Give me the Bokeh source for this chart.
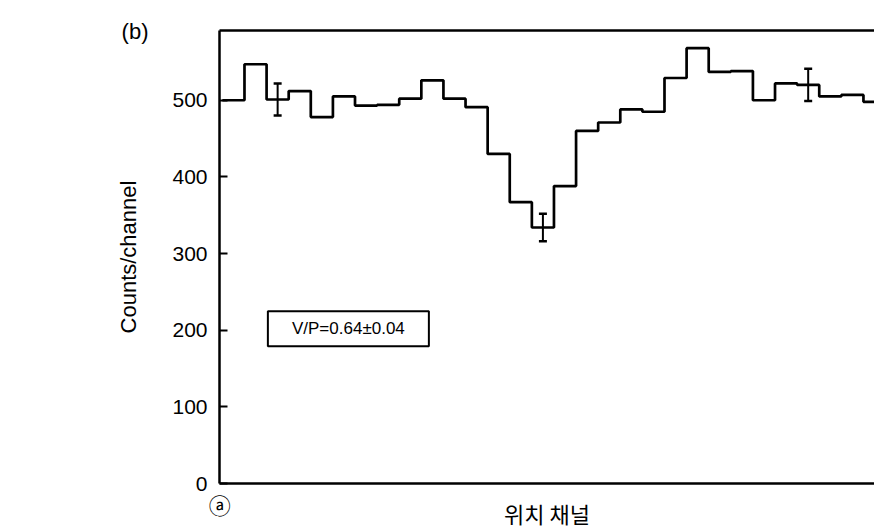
from bokeh.plotting import figure
from bokeh.models import Range1d, FixedTicker, LinearAxis, Label, Whisker, ColumnDataSource, TeeHead
from bokeh.embed import file_html
from bokeh.resources import INLINE

# ---- data ----
counts = [500, 547, 501, 512, 478, 505, 493, 494, 502, 526,
          502, 491, 430, 367, 334, 388, 460, 471, 488, 485,
          529, 568, 537, 538, 500, 522, 520, 505, 507, 498]
err_bins = [2, 14, 26]
err_sizes = [21, 18, 21]
y_ticks = [0, 100, 200, 300, 400, 500]
x_title = "위치 채널"
y_title = "Counts/channel"
note_text = "V/P=0.64±0.04"
panel_text = "(b)"
corner_text = "ⓐ"

# ---- annotation positions (data units) ----
note_x, note_y = 5.7, 202
panel_tick = 590      # y value where the panel letter sits
corner_tick = -0.12   # x value where the corner mark sits

FONT = "Liberation Sans"

p = figure(frame_width=655, frame_height=453, output_backend="svg",
           toolbar_location=None, x_range=Range1d(-0.13, 29.5),
           y_range=Range1d(0, 591),
           min_border_left=219, min_border_right=0,
           min_border_top=30, min_border_bottom=47)
p.grid.visible = False
p.outline_line_color = None
p.background_fill_color = "white"
p.border_fill_color = "white"

# y axis
ya = p.yaxis[0]
ya.ticker = FixedTicker(ticks=y_ticks)
ya.minor_tick_line_color = None
ya.major_tick_in = 8
ya.major_tick_out = 0
ya.major_tick_line_width = 2
ya.axis_line_width = 2.5
ya.major_label_text_font = FONT
ya.major_label_text_font_size = "21px"
ya.major_label_text_color = "black"
ya.major_label_standoff = 12
ya.axis_label = y_title
ya.axis_label_text_font = FONT
ya.axis_label_text_font_size = "22px"
ya.axis_label_text_font_style = "normal"
ya.axis_label_text_color = "black"
ya.axis_label_standoff = 28

# outer left axis carrying the panel letter
pa = LinearAxis(ticker=FixedTicker(ticks=[panel_tick]),
                major_label_overrides={panel_tick: panel_text},
                axis_line_color=None, major_tick_line_color=None,
                minor_tick_line_color=None,
                major_label_text_font=FONT, major_label_text_font_size="22px",
                major_label_text_color="black", major_label_standoff=-41)
p.add_layout(pa, "left")

# x axis (corner mark as its only label)
xa = p.xaxis[0]
xa.ticker = FixedTicker(ticks=[corner_tick])
xa.major_label_overrides = {corner_tick: corner_text}
xa.major_label_text_font = "Noto Sans CJK KR"
xa.major_label_text_font_size = "22px"
xa.major_label_text_color = "black"
xa.major_label_standoff = -2
xa.minor_tick_line_color = None
xa.major_tick_line_color = None
xa.axis_line_width = 2.5
xa.axis_label = x_title
xa.axis_label_text_font = "Noto Sans CJK KR"
xa.axis_label_text_font_size = "22px"
xa.axis_label_text_font_style = "normal"
xa.axis_label_text_color = "black"
xa.axis_label_standoff = -26

# top frame line
top = LinearAxis(ticker=FixedTicker(ticks=[]), axis_line_width=2.5,
                 major_tick_line_color=None, minor_tick_line_color=None,
                 major_label_text_font_size="0px")
p.add_layout(top, "above")

# histogram
edges = list(range(len(counts) + 1))
p.step(x=edges, y=counts + [counts[-1]], mode="after",
       line_color="black", line_width=2.7)

# error bars
centers = [b + 0.5 for b in err_bins]
vals = [counts[b] for b in err_bins]
src = ColumnDataSource(dict(base=centers,
                            upper=[v + e for v, e in zip(vals, err_sizes)],
                            lower=[v - e for v, e in zip(vals, err_sizes)]))
w = Whisker(source=src, base="base", upper="upper", lower="lower",
            dimension="height", line_color="black", line_width=2,
            upper_head=TeeHead(size=8, line_width=2.5, line_color="black"),
            lower_head=TeeHead(size=8, line_width=2.5, line_color="black"))
p.add_layout(w)

# annotation box
p.rect(x=[note_x], y=[note_y], width=161, height=35,
       width_units="screen", height_units="screen",
       fill_color=None, line_color="black", line_width=2)
p.add_layout(Label(x=note_x, y=note_y, text=note_text, text_font=FONT,
                   text_font_size="17px", text_align="center",
                   text_baseline="middle", text_color="black"))

open("out.html", "w").write(file_html(p, INLINE))
